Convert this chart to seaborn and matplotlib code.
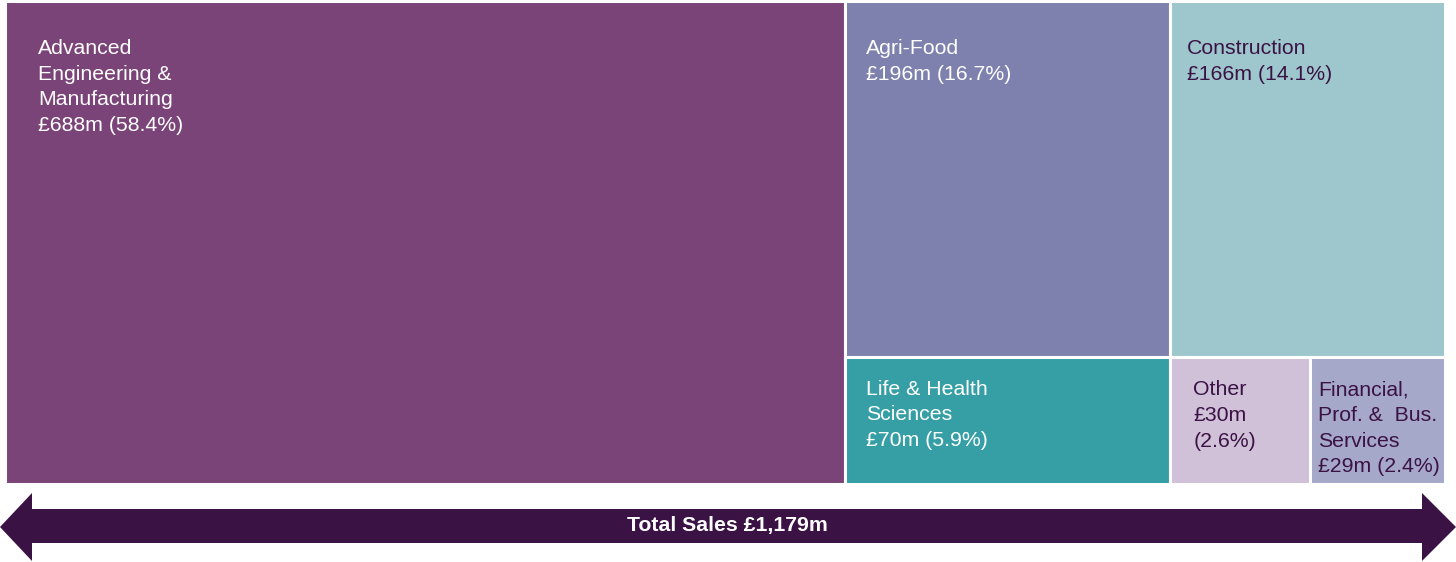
import matplotlib
matplotlib.use("Agg")
import matplotlib.pyplot as plt
from matplotlib.patches import Rectangle, Polygon
import seaborn as sns

# ---- data ----
sectors = ["Advanced\nEngineering &\nManufacturing", "Agri-Food", "Construction",
           "Life & Health\nSciences", "Other", "Financial,\nProf. &  Bus.\nServices"]
sales_m = [688, 196, 166, 70, 30, 29]
shares_pct = [58.4, 16.7, 14.1, 5.9, 2.6, 2.4]
total_label = "Total Sales £1,179m"

colors = ["#7B4479", "#7E80AD", "#9DC7CC", "#369FA6", "#D0C1D9", "#A6A8C9"]
text_colors = ["white", "white", "#3A1244", "white", "#3A1244", "#3A1244"]

sns.set_theme(style="white")
plt.rcParams["font.family"] = ["Liberation Sans", "DejaVu Sans"]

W, H = 1456, 562
fig = plt.figure(figsize=(W / 100, H / 100), dpi=100)

# treemap axes (normalized units)
ax_w_px, ax_h_px = 1440, 483
ax = fig.add_axes([5 / W, (H - 484) / H, ax_w_px / W, ax_h_px / H])
ax.set_xlim(0, 1)
ax.set_ylim(1, 0)
ax.axis("off")

total = sum(sales_m)
# layout: column 1 = first sector; column 2 = sectors 1 & 3; column 3 = sector 2 on top, 4 & 5 below
w1 = sales_m[0] / total
col2 = sales_m[1] + sales_m[3]
col3 = sales_m[2] + sales_m[4] + sales_m[5]
rest = 1 - w1
w2 = rest * col2 / (col2 + col3)
w3 = rest - w2
h_top2 = sales_m[1] / col2
h_top3 = sales_m[2] / col3
w_other = w3 * sales_m[4] / (sales_m[4] + sales_m[5])

rects = [
    (0, 0, w1, 1),
    (w1, 0, w2, h_top2),
    (w1 + w2, 0, w3, h_top3),
    (w1, h_top2, w2, 1 - h_top2),
    (w1 + w2, h_top3, w_other, 1 - h_top3),
    (w1 + w2 + w_other, h_top3, w3 - w_other, 1 - h_top3),
]
pad_x_px = [33, 21, 17, 21, 23, 8]
pad_y_px = [38, 38, 38, 23, 23, 23]

for i, (x, y, w, h) in enumerate(rects):
    ax.add_patch(Rectangle((x, y), w, h, facecolor=colors[i], edgecolor="white", linewidth=2.2))
    if sectors[i] == "Other":
        txt = f"{sectors[i]}\n£{sales_m[i]}m\n({shares_pct[i]}%)"
    else:
        txt = f"{sectors[i]}\n£{sales_m[i]}m ({shares_pct[i]}%)"
    ax.text(x + pad_x_px[i] / ax_w_px, y + pad_y_px[i] / ax_h_px, txt,
            ha="left", va="top", fontsize=15.3, color=text_colors[i], linespacing=1.44)

# arrow axes
ax2 = fig.add_axes([0, 0, 1, 1])
ax2.set_xlim(0, W)
ax2.set_ylim(H, 0)
ax2.axis("off")
arrow = [(0, 527), (32, 493), (32, 509), (1422, 509), (1422, 493), (1456, 527),
         (1422, 561), (1422, 543), (32, 543), (32, 561)]
ax2.add_patch(Polygon(arrow, closed=True, facecolor="#3A1244", edgecolor="none"))
ax2.text(W / 2 - 1, 526, total_label, ha="center", va="center", color="white",
         fontsize=15.3, fontweight="bold")

fig.savefig("out.png", dpi=100)
